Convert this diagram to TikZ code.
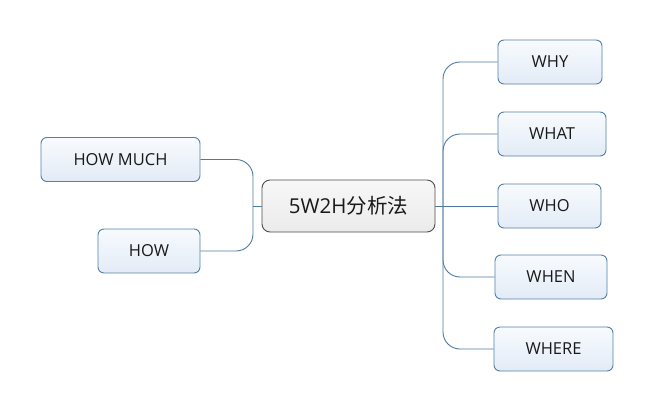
\documentclass[tikz,border=0pt]{standalone}
\usepackage{fontspec}
\setmainfont{Open Sans}
\newfontfamily\cjk{Noto Sans CJK SC}
\usepackage{tikz}
\usepackage{xcolor}
\usetikzlibrary{positioning}
\definecolor{boxline}{RGB}{84,128,168}
\definecolor{boxtop}{RGB}{248,251,254}
\definecolor{boxbot}{RGB}{226,235,246}
\definecolor{rootline}{RGB}{78,78,78}
\definecolor{linkcol}{RGB}{78,122,162}
\tikzset{
  topic/.style={
    draw=boxline, line width=0.9pt, rounded corners=6pt,
    top color=boxtop, bottom color=boxbot,
    minimum height=44pt, inner sep=0pt,
    font=\fontsize{16.5}{16.5}\selectfont, text=black!90
  },
  root/.style={
    draw=rootline, line width=0.9pt, rounded corners=8pt,
    top color=white!97!black, bottom color=black!8,
    minimum width=173pt, minimum height=52pt, inner sep=0pt,
    font=\fontsize{20.5}{20.5}\selectfont, text=black!90
  },
  branch/.style={draw=linkcol, line width=0.9pt, rounded corners=17pt},
}

\begin{document}
\begin{tikzpicture}[x=1pt, y=-1pt]

  \fill[white] (0,0) rectangle (653,412);

  \node[root] (root) at (348.5,206) {5W2H{\cjk 分析法}};

  % left side
  \node[topic, minimum width=159pt] (hmuch) at (120.5,159.5) {HOW MUCH};
  \node[topic, minimum width=102pt] (how)   at (149,251)     {HOW};

  % right side
  \node[topic, minimum width=104pt] (why)   at (550,62)    {WHY};
  \node[topic, minimum width=108pt] (what)  at (552,134)   {WHAT};
  \node[topic, minimum width=103pt] (who)   at (549.5,206) {WHO};
  \node[topic, minimum width=112pt] (when)  at (551,277)   {WHEN};
  \node[topic, minimum width=119pt] (where) at (553.5,349) {WHERE};

  \coordinate (lsplit) at (253,206);
  \coordinate (rsplit) at (443,206);

  % connectors to the left
  \draw[branch] (root.west) -- (lsplit);
  \draw[branch] (lsplit) |- (hmuch.east);
  \draw[branch] (lsplit) |- (how.east);

  % connectors to the right
  \draw[branch] (root.east) -- (who.west);
  \draw[branch] (rsplit) |- (why.west);
  \draw[branch] (rsplit) |- (what.west);
  \draw[branch] (rsplit) |- (when.west);
  \draw[branch] (rsplit) |- (where.west);

\end{tikzpicture}
\end{document}
